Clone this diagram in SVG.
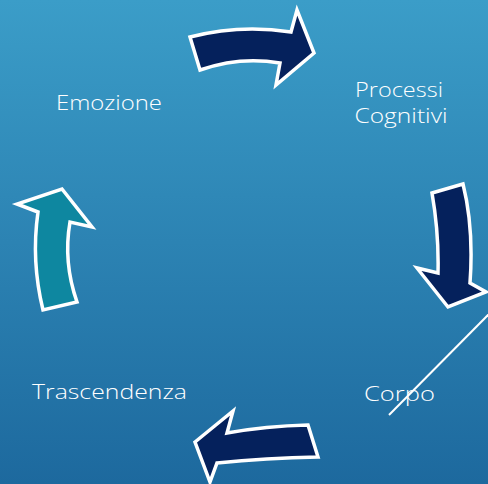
<svg xmlns="http://www.w3.org/2000/svg" width="488" height="484" viewBox="0 0 488 484">
<defs>
<linearGradient id="bg" x1="0" y1="0" x2="0" y2="1">
<stop offset="0" stop-color="#3b9dc8"/>
<stop offset="1" stop-color="#1d699e"/>
</linearGradient>
</defs>
<style>
.arrow{stroke:#ffffff;stroke-width:3.5;stroke-linejoin:miter}
.navy{fill:#05215c}
.teal{fill:#0e87a0}
.lbl{font-family:"Open Sans","DejaVu Sans",sans-serif;font-size:21px;font-weight:300;fill:#ffffff}
.conn{stroke:#ffffff;stroke-width:2;fill:none}
</style>
<rect width="488" height="484" fill="url(#bg)"/>
<g id="connectors">
<path id="arrow-top" class="arrow navy" d="M190,37 Q240,24 291,32 L297,10 L314,53 L276,85 L280,63 Q240,56 200,70 Z"/>
<path id="arrow-right" class="arrow navy" d="M432,193 L463,184 Q474,228 470,283 L486,292 L448,307 L417,268 L438,273 Q439,233 432,193 Z"/>
<path id="arrow-bottom" class="arrow navy" d="M195,442 L233,411 L227,433 Q266,426 308,425 L318,457 Q266,458 217,463 L210,482 Z"/>
<path id="arrow-left" class="arrow teal" d="M62,189 L92,227 L70,222 Q63,262 77,302 L43,310 Q31,261 38,212 L17,204 Z"/>
<line class="conn" x1="492" y1="311" x2="389" y2="415"/>
</g>
<g id="node-emozione"><text class="lbl" x="56" y="110" textLength="106" lengthAdjust="spacingAndGlyphs">Emozione</text></g>
<g id="node-processi"><text class="lbl" text-anchor="middle"><tspan x="399" y="97" textLength="88" lengthAdjust="spacingAndGlyphs">Processi</tspan><tspan x="401" y="123" textLength="93" lengthAdjust="spacingAndGlyphs">Cognitivi</tspan></text></g>
<g id="node-corpo"><text class="lbl" x="364" y="401" textLength="71" lengthAdjust="spacingAndGlyphs">Corpo</text></g>
<g id="node-trascendenza"><text class="lbl" x="32" y="399" textLength="155" lengthAdjust="spacingAndGlyphs">Trascendenza</text></g>
</svg>
